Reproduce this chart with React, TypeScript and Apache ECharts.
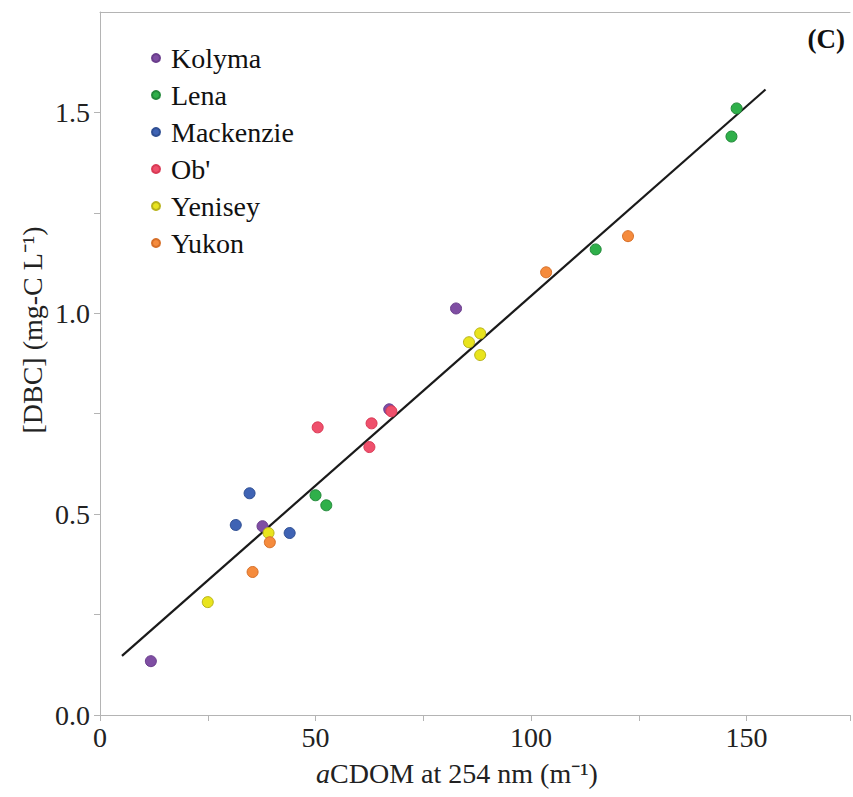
import React, { useEffect, useRef } from "react";
import * as echarts from "echarts";

const seriesNames = ["Kolyma", "Lena", "Mackenzie", "Ob'", "Yenisey", "Yukon"];
const seriesColors = ["#7f4ea3", "#2fb04a", "#3f63b4", "#ef506c", "#e9e41d", "#f58b3d"];
const borderColors = ["#6a3d8c", "#23893a", "#2f4f93", "#d93a55", "#b8b31a", "#d66f28"];

const kolyma = [[11.8, 0.134], [37.7, 0.47], [67.1, 0.761], [82.6, 1.012]];
const lena = [[50.0, 0.547], [52.5, 0.522], [115.0, 1.159], [146.5, 1.44], [147.7, 1.51]];
const mackenzie = [[31.5, 0.473], [34.7, 0.552], [44.0, 0.453]];
const ob = [[50.5, 0.716], [63.0, 0.726], [62.5, 0.667], [67.6, 0.756]];
const yenisey = [[25.0, 0.281], [39.1, 0.453], [85.6, 0.928], [88.2, 0.95], [88.2, 0.896]];
const yukon = [[35.4, 0.356], [39.4, 0.43], [103.5, 1.102], [122.5, 1.192]];
const seriesData = [kolyma, lena, mackenzie, ob, yenisey, yukon];

const fitLine = [[5.1, 0.147], [154.4, 1.557]];

const xTicks = [0, 50, 100, 150];
const yTicks = [0, 0.5, 1.0, 1.5];

const FONT = "'Liberation Serif', 'Times New Roman', serif";

export default function App() {
  const ref = useRef<HTMLDivElement>(null);
  useEffect(() => {
    document.body.style.margin = "0";
    const chart = echarts.init(ref.current!, null, { renderer: "svg" });
    const scatter = seriesNames.map((name, i) => ({
      name,
      type: "scatter",
      data: seriesData[i],
      symbol: "circle",
      symbolSize: 11,
      itemStyle: { color: seriesColors[i], borderColor: borderColors[i], borderWidth: 1, opacity: 1 },
      z: 3,
    }));
    chart.setOption({
      animation: false,
      backgroundColor: "#ffffff",
      grid: { left: 100, top: 12, right: 1, bottom: 82, containLabel: false },
      legend: {
        orient: "vertical",
        left: 146,
        top: 39,
        icon: "circle",
        itemWidth: 8,
        itemHeight: 8,
        itemGap: 9,
        data: seriesNames,
        textStyle: { fontFamily: FONT, fontSize: 28, color: "#111", padding: [0, 0, 0, 6], lineHeight: 28 },
      },
      xAxis: [
        {
          type: "value",
          min: 0,
          max: 174,
          interval: 25,
          axisLine: { show: true, lineStyle: { color: "#b4b4b4", width: 1 } },
          axisTick: { show: true, inside: false, length: 6, lineStyle: { color: "#b4b4b4" } },
          splitLine: { show: false },
          axisLabel: {
            fontFamily: FONT,
            fontSize: 28,
            color: "#222",
            margin: 8,
            formatter: (v: number) => (xTicks.includes(v) ? String(v) : ""),
          },
        },
        {
          type: "value",
          position: "top",
          min: 0,
          max: 174,
          axisLine: { show: true, lineStyle: { color: "#b4b4b4", width: 1 } },
          axisTick: { show: false },
          axisLabel: { show: false },
          splitLine: { show: false },
        },
      ],
      yAxis: {
        type: "value",
        min: 0,
        max: 1.75,
        interval: 0.25,
        axisLine: { show: true, lineStyle: { color: "#b4b4b4", width: 1 } },
        axisTick: { show: true, inside: false, length: 6, lineStyle: { color: "#b4b4b4" } },
        splitLine: { show: false },
        axisLabel: {
          fontFamily: FONT,
          fontSize: 28,
          color: "#222",
          margin: 10,
          showMaxLabel: false,
          formatter: (v: number) => (yTicks.some((t) => Math.abs(t - v) < 1e-9) ? v.toFixed(1) : ""),
        },
      },
      series: [
        ...scatter,
        {
          name: "fit",
          type: "line",
          data: fitLine,
          symbol: "none",
          lineStyle: { color: "#1a1a1a", width: 2.2 },
          z: 2,
          silent: true,
        },
      ],
      graphic: [
        {
          type: "text",
          x: 457,
          y: 773,
          style: {
            text: "{i|a}CDOM at 254 nm (m⁻¹)",
            align: "center",
            verticalAlign: "middle",
            fontFamily: FONT,
            fontSize: 28,
            fill: "#222",
            rich: { i: { fontStyle: "italic", fontFamily: FONT, fontSize: 28, fill: "#222" } },
          },
        },
        {
          type: "text",
          x: 32,
          y: 330,
          rotation: Math.PI / 2,
          style: {
            text: "[DBC] (mg-C L⁻¹)",
            align: "center",
            verticalAlign: "middle",
            fontFamily: FONT,
            fontSize: 28,
            fill: "#222",
          },
        },
        {
          type: "text",
          x: 845,
          y: 39,
          style: {
            text: "(C)",
            align: "right",
            verticalAlign: "middle",
            fontFamily: FONT,
            fontSize: 27,
            fontWeight: "bold",
            fill: "#111",
          },
        },
      ],
    });
    return () => chart.dispose();
  }, []);
  return <div ref={ref} style={{ width: 853, height: 797 }} />;
}
